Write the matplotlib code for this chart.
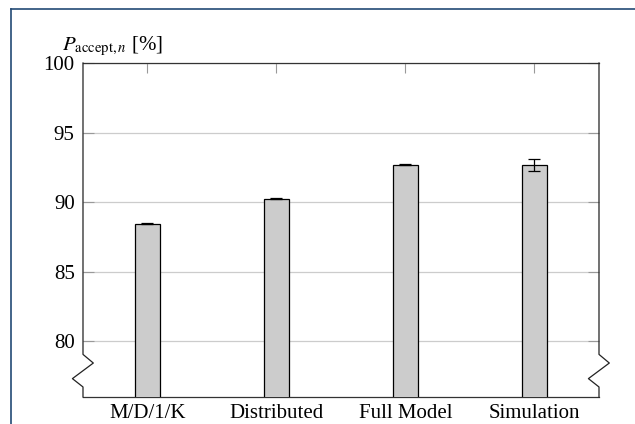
import numpy as np
import matplotlib
matplotlib.use("Agg")
import matplotlib.pyplot as plt
from matplotlib.lines import Line2D
from matplotlib.transforms import blended_transform_factory

categories = ["M/D/1/K", "Distributed", "Full Model", "Simulation"]
values = [88.45, 90.25, 92.7, 92.68]
errors = [0.02, 0.02, 0.02, 0.45]
yticks = [80, 85, 90, 95, 100]

plt.rcParams["font.family"] = ["Liberation Serif", "DejaVu Serif"]
plt.rcParams["mathtext.fontset"] = "stix"

fig = plt.figure(figsize=(6.35, 4.24), dpi=100)
ax = fig.add_axes([0.1307, 0.0637, 0.8126, 0.7877])

x = np.arange(len(categories))
ax.bar(x, values, width=0.2, color="#cccccc", edgecolor="black",
       linewidth=0.9, zorder=3)
ax.errorbar(x, values, yerr=errors, fmt="none", ecolor="black",
            elinewidth=0.9, capsize=4, capthick=0.9, zorder=4)

ax.set_xlim(-0.5, 3.5)
ax.set_ylim(76, 100)
ax.set_yticks(yticks)
ax.set_xticks(x)
ax.set_xticklabels(categories)
ax.grid(axis="y", color="#cccccc", linewidth=0.9, zorder=0)

ax.tick_params(axis="y", direction="in", length=8, width=0.8, color="#999999",
               labelsize=15, pad=6, right=True)
ax.tick_params(axis="x", direction="in", length=7, width=0.8, color="#999999",
               labelsize=15, pad=5, bottom=False, top=True)

for s in ["left", "right"]:
    ax.spines[s].set_visible(False)
for s in ["top", "bottom"]:
    ax.spines[s].set_linewidth(0.9)
    ax.spines[s].set_color("#333333")

# left/right spines with axis-break zigzag
tr = blended_transform_factory(ax.transAxes, ax.transData)
zx = [0, 0, 0.02, -0.0205, 0, 0]
zy = [100, 79.06, 78.44, 77.32, 76.72, 76]
for x0 in [0, 1]:
    ax.add_line(Line2D([x0 + v for v in zx], zy, transform=tr, color="#222222",
                       linewidth=0.9, clip_on=False, zorder=5))

ax.text(-0.04, 1.039, r"$P_{\mathrm{accept},n}$ [%]", transform=ax.transAxes,
        fontsize=15, ha="left", va="baseline")

# frame lines at top and left of the image
fig.add_artist(Line2D([11 / 635, 1], [1 - 9 / 424, 1 - 9 / 424],
                      transform=fig.transFigure, color="#234a75", linewidth=1.2))
fig.add_artist(Line2D([11 / 635, 11 / 635], [0, 1 - 9 / 424],
                      transform=fig.transFigure, color="#234a75", linewidth=1.2))

fig.savefig("out.png", dpi=100)
